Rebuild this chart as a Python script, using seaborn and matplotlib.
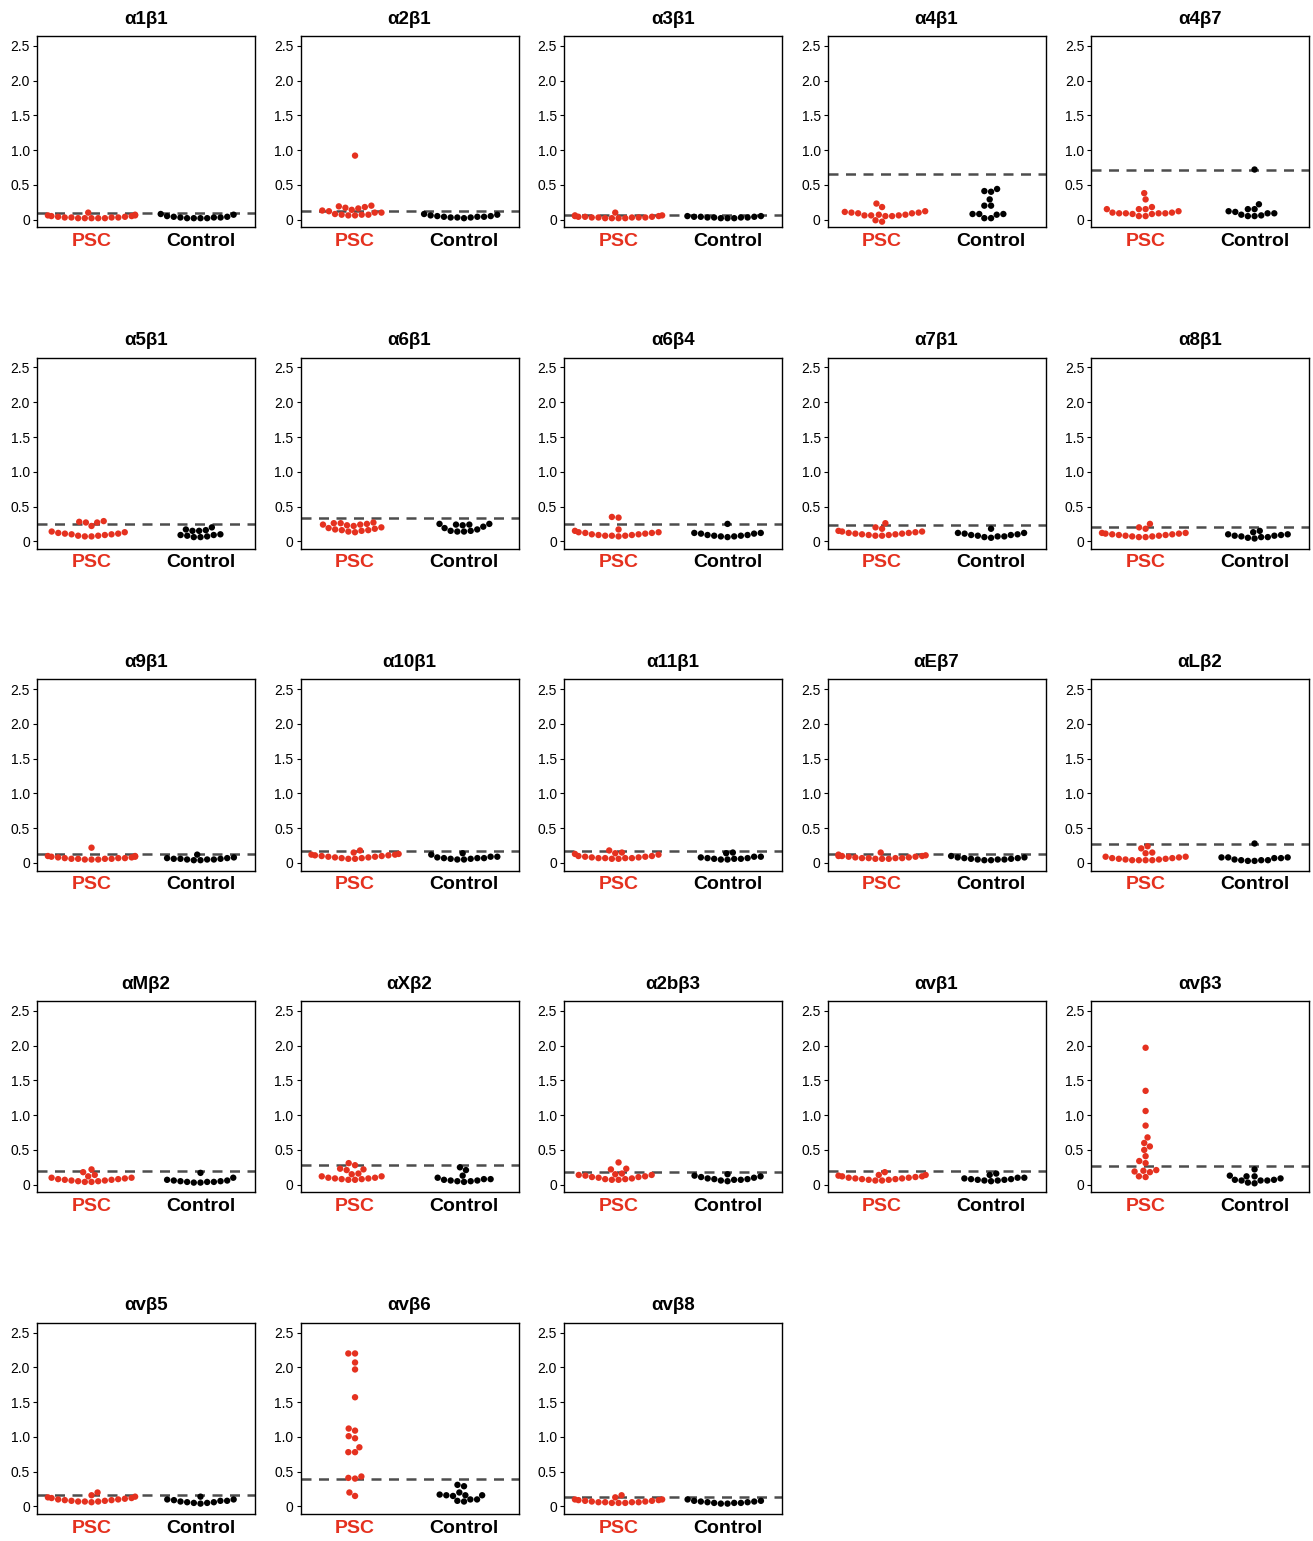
import warnings
import numpy as np
import pandas as pd
import matplotlib
matplotlib.use("Agg")
import matplotlib.pyplot as plt
import seaborn as sns

warnings.filterwarnings("ignore")

sns.set_style("white")
plt.rcParams["font.family"] = ["Liberation Sans", "DejaVu Sans"]
plt.rcParams["text.color"] = "black"
plt.rcParams["xtick.color"] = "black"
plt.rcParams["ytick.color"] = "black"
plt.rcParams["axes.labelcolor"] = "black"

# 整合素名称
integrins = ["α1β1", "α2β1", "α3β1", "α4β1", "α4β7",
             "α5β1", "α6β1", "α6β4", "α7β1", "α8β1",
             "α9β1", "α10β1", "α11β1", "αEβ7", "αLβ2",
             "αMβ2", "αXβ2", "α2bβ3", "αvβ1", "αvβ3",
             "αvβ5", "αvβ6", "αvβ8"]

groups = ["PSC", "Control"]

# 阈值（虚线）
cutoffs = [0.09, 0.12, 0.07, 0.65, 0.72,
           0.25, 0.33, 0.25, 0.23, 0.20,
           0.13, 0.17, 0.17, 0.13, 0.28,
           0.19, 0.29, 0.18, 0.19, 0.27,
           0.16, 0.40, 0.13]

# PSC 组数据（每个面板 17 个样本）
psc_values = [
    [0.07, 0.06, 0.05, 0.04, 0.03, 0.02, 0.02, 0.02, 0.02, 0.03, 0.02, 0.03, 0.03, 0.04, 0.05, 0.06, 0.10],
    [0.92, 0.20, 0.16, 0.17, 0.19, 0.18, 0.13, 0.14, 0.10, 0.08, 0.07, 0.06, 0.06, 0.07, 0.07, 0.10, 0.12],
    [0.06, 0.05, 0.04, 0.03, 0.03, 0.02, 0.02, 0.02, 0.02, 0.03, 0.03, 0.04, 0.05, 0.06, 0.10, 0.04, 0.03],
    [0.12, 0.10, 0.09, 0.07, 0.06, 0.05, 0.05, 0.06, 0.06, 0.07, 0.09, 0.10, 0.11, 0.18, 0.23, -0.03, -0.01],
    [0.38, 0.29, 0.18, 0.15, 0.15, 0.15, 0.12, 0.10, 0.09, 0.09, 0.09, 0.08, 0.08, 0.09, 0.10, 0.05, 0.05],
    [0.29, 0.28, 0.27, 0.27, 0.22, 0.14, 0.13, 0.12, 0.11, 0.10, 0.09, 0.08, 0.07, 0.07, 0.08, 0.10, 0.11],
    [0.27, 0.26, 0.26, 0.25, 0.24, 0.24, 0.23, 0.22, 0.20, 0.19, 0.18, 0.17, 0.16, 0.15, 0.14, 0.13, 0.16],
    [0.35, 0.34, 0.17, 0.15, 0.13, 0.12, 0.11, 0.10, 0.09, 0.08, 0.08, 0.07, 0.08, 0.09, 0.10, 0.12, 0.13],
    [0.26, 0.20, 0.18, 0.15, 0.14, 0.13, 0.12, 0.11, 0.10, 0.09, 0.08, 0.08, 0.09, 0.10, 0.11, 0.12, 0.14],
    [0.25, 0.20, 0.18, 0.12, 0.11, 0.10, 0.09, 0.08, 0.07, 0.06, 0.06, 0.07, 0.08, 0.09, 0.10, 0.11, 0.12],
    [0.22, 0.10, 0.09, 0.08, 0.07, 0.07, 0.06, 0.06, 0.05, 0.05, 0.05, 0.06, 0.06, 0.07, 0.08, 0.09, 0.10],
    [0.18, 0.15, 0.13, 0.12, 0.11, 0.10, 0.09, 0.08, 0.07, 0.06, 0.06, 0.07, 0.08, 0.09, 0.10, 0.11, 0.12],
    [0.18, 0.15, 0.14, 0.13, 0.10, 0.09, 0.08, 0.07, 0.07, 0.06, 0.06, 0.07, 0.07, 0.08, 0.09, 0.10, 0.12],
    [0.15, 0.12, 0.10, 0.09, 0.08, 0.07, 0.07, 0.06, 0.06, 0.06, 0.07, 0.07, 0.08, 0.09, 0.10, 0.11, 0.10],
    [0.24, 0.21, 0.14, 0.15, 0.09, 0.08, 0.07, 0.06, 0.05, 0.04, 0.04, 0.04, 0.04, 0.05, 0.06, 0.07, 0.09],
    [0.22, 0.18, 0.14, 0.12, 0.10, 0.09, 0.08, 0.07, 0.06, 0.05, 0.04, 0.04, 0.05, 0.06, 0.07, 0.08, 0.10],
    [0.31, 0.28, 0.23, 0.22, 0.21, 0.15, 0.16, 0.12, 0.10, 0.09, 0.08, 0.07, 0.07, 0.08, 0.09, 0.10, 0.12],
    [0.32, 0.23, 0.22, 0.16, 0.15, 0.14, 0.12, 0.11, 0.10, 0.08, 0.07, 0.07, 0.08, 0.09, 0.11, 0.13, 0.14],
    [0.18, 0.14, 0.13, 0.12, 0.11, 0.10, 0.09, 0.08, 0.07, 0.06, 0.06, 0.07, 0.08, 0.09, 0.10, 0.12, 0.14],
    [1.97, 1.35, 1.06, 0.85, 0.68, 0.60, 0.55, 0.50, 0.41, 0.34, 0.31, 0.21, 0.19, 0.18, 0.20, 0.11, 0.12],
    [0.20, 0.16, 0.14, 0.13, 0.12, 0.11, 0.10, 0.09, 0.08, 0.07, 0.07, 0.06, 0.07, 0.08, 0.09, 0.10, 0.12],
    [2.20, 2.20, 2.07, 1.97, 1.57, 1.09, 1.12, 0.98, 1.01, 0.85, 0.78, 0.78, 0.43, 0.40, 0.41, 0.15, 0.20],
    [0.16, 0.13, 0.10, 0.09, 0.08, 0.07, 0.06, 0.06, 0.05, 0.05, 0.05, 0.06, 0.06, 0.07, 0.08, 0.09, 0.10],
]

# Control 组数据（每个面板 12 个样本）
control_values = [
    [0.05, 0.04, 0.03, 0.03, 0.02, 0.02, 0.02, 0.02, 0.03, 0.04, 0.07, 0.08],
    [0.08, 0.06, 0.05, 0.04, 0.04, 0.03, 0.03, 0.02, 0.03, 0.04, 0.05, 0.07],
    [0.05, 0.04, 0.04, 0.03, 0.03, 0.02, 0.02, 0.02, 0.03, 0.03, 0.04, 0.05],
    [0.44, 0.41, 0.40, 0.29, 0.20, 0.20, 0.08, 0.07, 0.08, 0.02, 0.02, 0.08],
    [0.72, 0.22, 0.15, 0.15, 0.12, 0.11, 0.09, 0.07, 0.06, 0.05, 0.05, 0.09],
    [0.20, 0.17, 0.16, 0.15, 0.15, 0.10, 0.09, 0.08, 0.07, 0.06, 0.06, 0.09],
    [0.25, 0.25, 0.24, 0.24, 0.23, 0.21, 0.19, 0.17, 0.15, 0.15, 0.14, 0.14],
    [0.25, 0.12, 0.11, 0.09, 0.08, 0.07, 0.06, 0.07, 0.08, 0.09, 0.11, 0.12],
    [0.18, 0.12, 0.11, 0.10, 0.09, 0.08, 0.07, 0.06, 0.05, 0.07, 0.09, 0.12],
    [0.15, 0.13, 0.10, 0.09, 0.08, 0.07, 0.06, 0.05, 0.04, 0.06, 0.08, 0.10],
    [0.12, 0.08, 0.07, 0.06, 0.06, 0.05, 0.05, 0.04, 0.04, 0.05, 0.06, 0.07],
    [0.14, 0.12, 0.09, 0.08, 0.07, 0.07, 0.06, 0.05, 0.05, 0.06, 0.07, 0.09],
    [0.15, 0.14, 0.09, 0.08, 0.07, 0.06, 0.06, 0.05, 0.05, 0.06, 0.07, 0.09],
    [0.10, 0.08, 0.07, 0.06, 0.05, 0.05, 0.04, 0.04, 0.05, 0.06, 0.07, 0.08],
    [0.28, 0.08, 0.08, 0.07, 0.04, 0.04, 0.03, 0.03, 0.04, 0.05, 0.07, 0.08],
    [0.17, 0.10, 0.07, 0.06, 0.05, 0.04, 0.04, 0.03, 0.03, 0.04, 0.05, 0.06],
    [0.25, 0.21, 0.13, 0.08, 0.07, 0.06, 0.05, 0.04, 0.05, 0.06, 0.08, 0.10],
    [0.15, 0.13, 0.11, 0.09, 0.08, 0.07, 0.06, 0.05, 0.07, 0.08, 0.10, 0.12],
    [0.16, 0.14, 0.10, 0.09, 0.08, 0.07, 0.06, 0.05, 0.06, 0.07, 0.08, 0.10],
    [0.22, 0.13, 0.12, 0.12, 0.07, 0.06, 0.06, 0.06, 0.02, 0.03, 0.09, 0.07],
    [0.14, 0.10, 0.09, 0.08, 0.07, 0.06, 0.05, 0.04, 0.05, 0.06, 0.08, 0.10],
    [0.31, 0.29, 0.20, 0.17, 0.16, 0.16, 0.16, 0.15, 0.10, 0.10, 0.07, 0.08],
    [0.10, 0.08, 0.07, 0.06, 0.05, 0.05, 0.04, 0.04, 0.05, 0.06, 0.07, 0.08],
]

y_ticks = [0, 0.5, 1.0, 1.5, 2.0, 2.5]
y_ticklabels = ["0", "0.5", "1.0", "1.5", "2.0", "2.5"]

colors = {"PSC": "#e5311f", "Control": "#000000"}

fig, axes = plt.subplots(5, 5, figsize=(13.13, 15.41), dpi=100)
plt.subplots_adjust(left=0.0282, right=0.997, top=0.9766, bottom=0.0175,
                    wspace=0.209, hspace=0.683)

for i, ax in enumerate(axes.flat):
    if i >= len(integrins):
        ax.axis("off")
        continue

    df = pd.DataFrame({
        "group": ["PSC"] * len(psc_values[i]) + ["Control"] * len(control_values[i]),
        "value": psc_values[i] + control_values[i],
    })

    ax.axhline(cutoffs[i], color="#4d4d4d", linestyle=(0, (4, 3)), linewidth=1.8, zorder=1)
    sns.swarmplot(data=df, x="group", y="value", hue="group", order=groups,
                  palette=colors, size=4.6, legend=False, ax=ax, zorder=3)

    ax.set_ylim(-0.11, 2.64)
    ax.set_xlim(-0.5, 1.5)
    ax.set_yticks(y_ticks)
    ax.set_yticklabels(y_ticklabels, fontsize=10)
    ax.set_xlabel("")
    ax.set_ylabel("")
    ax.set_title(integrins[i], fontsize=13.5, fontweight="bold", pad=9, color="black")
    ax.set_xticks([0, 1])
    ax.set_xticklabels(groups, fontsize=14, fontweight="bold")
    for lab, g in zip(ax.get_xticklabels(), groups):
        lab.set_color(colors[g])
    ax.tick_params(axis="x", length=0, pad=4)
    ax.tick_params(axis="y", length=3, width=0.8, pad=2, left=True)
    for s in ax.spines.values():
        s.set_color("black")
        s.set_linewidth(1)

fig.savefig("out.png", dpi=100)
